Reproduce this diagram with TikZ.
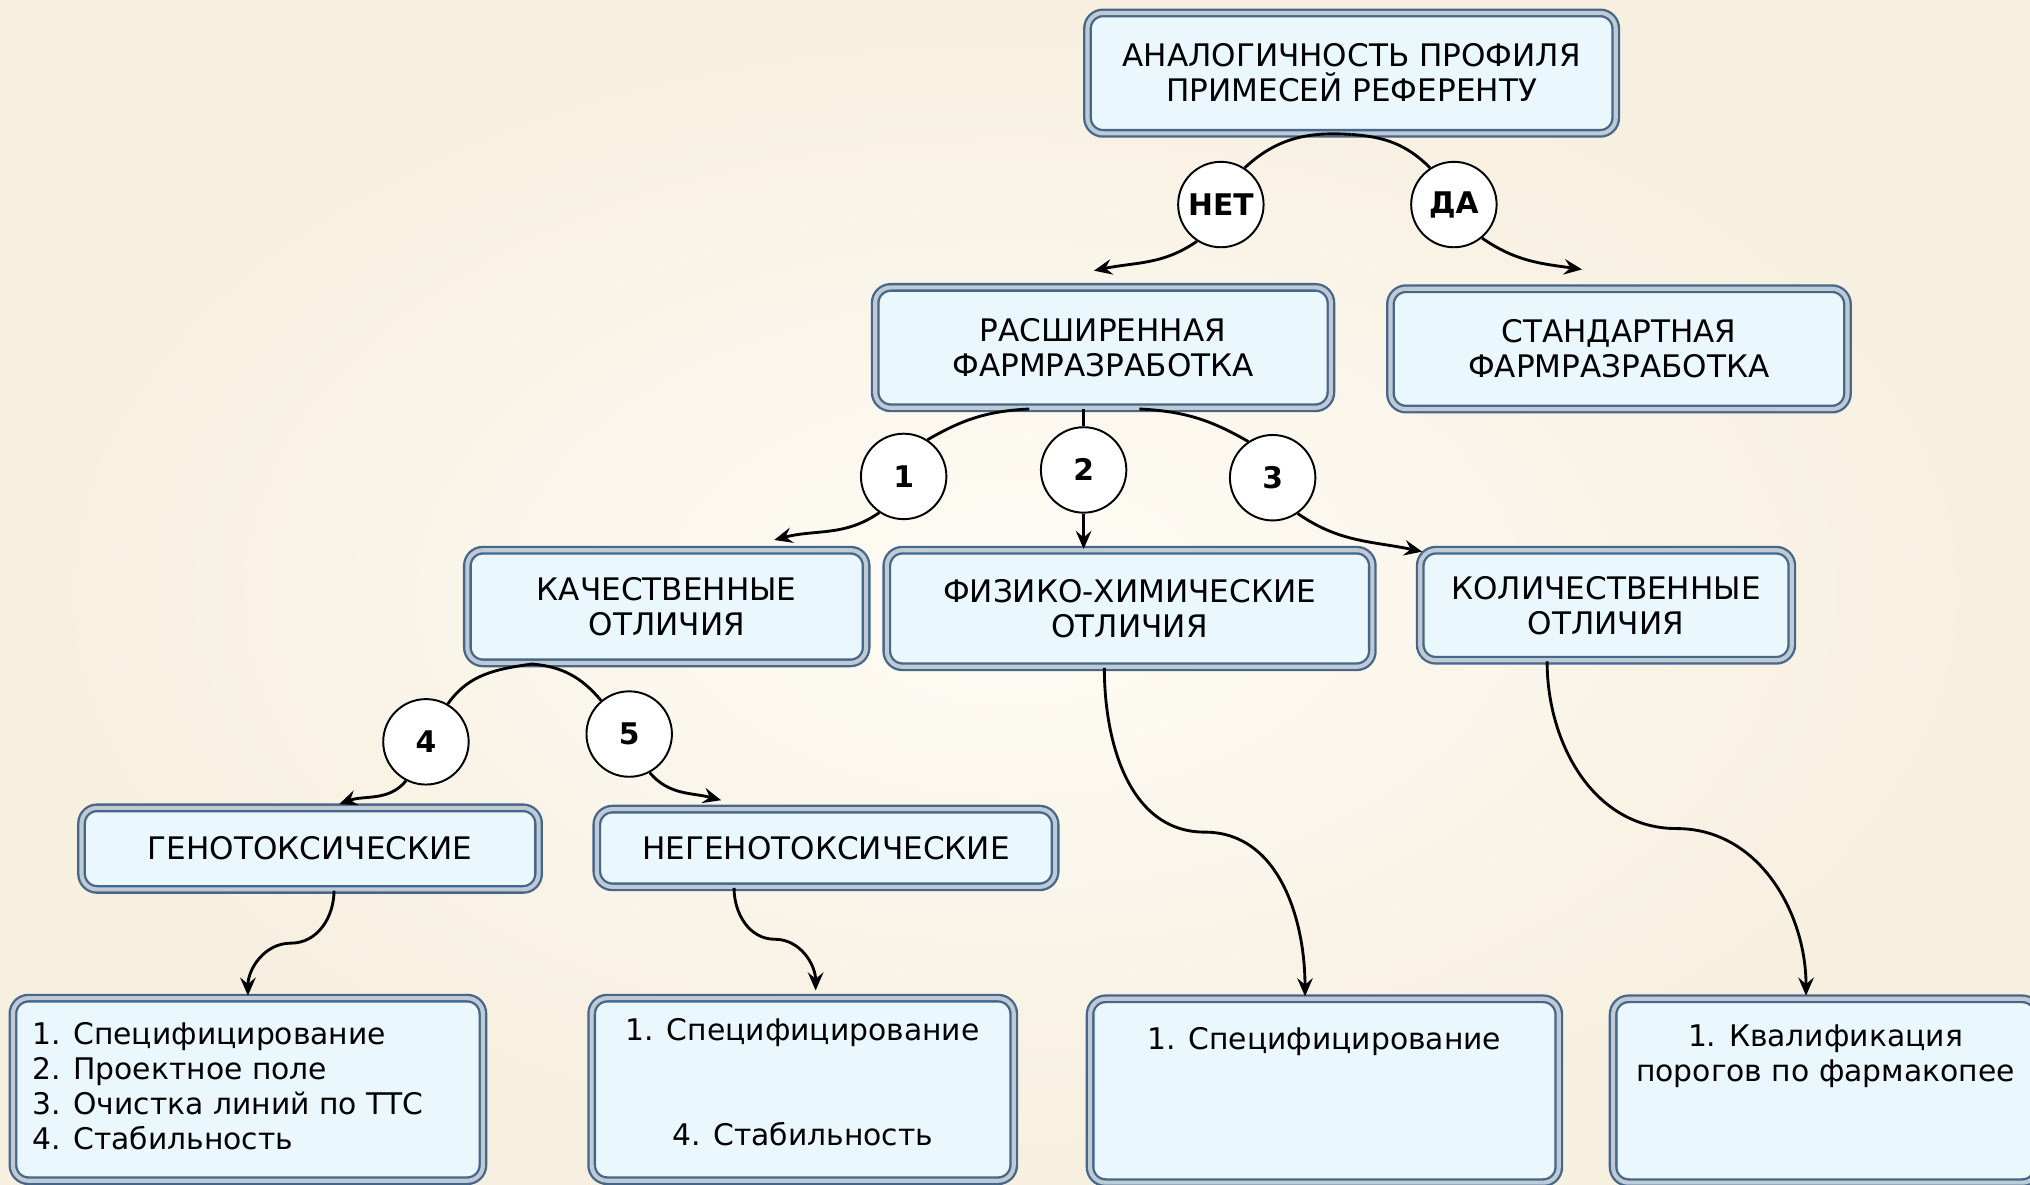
\documentclass[tikz,border=0pt]{standalone}
\usepackage{fontspec}
\setmainfont{DejaVu Sans}
\usetikzlibrary{arrows.meta,calc,shapes}

\definecolor{bgin}{HTML}{FEFCF6}
\definecolor{bgout}{HTML}{F7EFDF}
\definecolor{boxfill}{HTML}{EAF7FD}
\definecolor{boxedge}{HTML}{46668A}
\definecolor{boxrim}{HTML}{C0CAD4}

\tikzset{
  stage/.style={draw=boxedge, line width=0.9pt, double=boxrim, double distance=1.6pt,
    fill=boxfill, rounded corners=6pt, align=center, inner sep=0pt,
    font=\fontsize{12}{13.5}\selectfont},
  result/.style={stage, font=\fontsize{11.5}{13.5}\selectfont},
  answer/.style={circle, draw, line width=0.75pt, fill=white, minimum size=33pt,
    inner sep=0pt, font=\fontsize{11.5}{13}\selectfont\bfseries},
  link/.style={line width=1.1pt},
  flow/.style={link, -{Stealth[length=7pt,width=6pt,inset=2.5pt]}},
}

\begin{document}
\begin{tikzpicture}[x=0.5pt,y=0.5pt]
\useasboundingbox (0,0) rectangle (1568,915);
\shade[inner color=bgin, outer color=bgout] (0,0) rectangle (1568,915);

\node[stage, minimum width=204pt, minimum height=46.5pt] (anal) at (1044,858.5) {АНАЛОГИЧНОСТЬ ПРОФИЛЯ\\ПРИМЕСЕЙ РЕФЕРЕНТУ};
\node[stage, minimum width=176pt, minimum height=46.5pt] (ext) at (852,646.5) {РАСШИРЕННАЯ\\ФАРМРАЗРАБОТКА};
\node[stage, minimum width=176.5pt, minimum height=46.5pt] (std) at (1250.5,645.5) {СТАНДАРТНАЯ\\ФАРМРАЗРАБОТКА};
\node[stage, minimum width=154pt, minimum height=43.5pt] (qual) at (515,446.5) {КАЧЕСТВЕННЫЕ\\ОТЛИЧИЯ};
\node[stage, minimum width=187.5pt, minimum height=45pt] (phys) at (872.5,445) {ФИЗИКО-ХИМИЧЕСКИЕ\\ОТЛИЧИЯ};
\node[stage, minimum width=143.5pt, minimum height=42.5pt] (quant) at (1240.5,447.5) {КОЛИЧЕСТВЕННЫЕ\\ОТЛИЧИЯ};
\node[stage, minimum width=176.5pt, minimum height=31.5pt] (geno) at (239.5,259.5) {ГЕНОТОКСИЧЕСКИЕ};
\node[stage, minimum width=177pt, minimum height=30pt] (ngeno) at (638,260) {НЕГЕНОТОКСИЧЕСКИЕ};

\node[result, minimum width=181.5pt, minimum height=70.5pt, inner xsep=7.5pt, inner ysep=9.5pt] (spec1) at (191.5,73.5)
  {\parbox[c][51.5pt][t]{166.5pt}{\raggedright 1. Специфицирование\\2. Проектное поле\\3. Очистка линий по ТТС\\4. Стабильность}};
\node[result, minimum width=163pt, minimum height=70.5pt, inner xsep=7.5pt, inner ysep=8pt] (spec2) at (620,73.5)
  {\parbox[c][54.5pt][t]{148pt}{\centering 1. Специфицирование\\[27pt]4. Стабильность}};
\node[result, minimum width=181pt, minimum height=71pt, inner xsep=7.5pt, inner ysep=11pt] (spec3) at (1023,72.5)
  {\parbox[c][49pt][t]{166pt}{\centering 1. Специфицирование}};
\node[result, minimum width=164pt, minimum height=71pt, inner xsep=2pt, inner ysep=10pt] (spec4) at (1410,72.5)
  {\parbox[c][51pt][t]{160pt}{\centering 1. Квалификация\\порогов по фармакопее}};

\node[answer] (net) at (943,757) {НЕТ};
\node[answer] (da) at (1123,757) {ДА};
\node[answer] (c1) at (698,547) {1};
\node[answer] (c2) at (837,552) {2};
\node[answer] (c3) at (983,546) {3};
\node[answer] (c4) at (329,342) {4};
\node[answer] (c5) at (486,348) {5};

\draw[link] (anal.south) to[out=176,in=43] (net.57);
\draw[link] (anal.south) to[out=-4,in=135] (da.123);
\draw[flow] (net.-123) to[out=-145,in=12] ($(ext.north)+(-7,12)$);
\draw[flow] (da.-50) to[out=-35,in=172] ($(std.north)+(-28.5,14)$);

\draw[link] ($(ext.south)+(-57,0)$) to[out=183,in=30] (c1.57);
\draw[link] (c2 |- ext.south) -- (c2);
\draw[link] ($(ext.south)+(28,0)$) to[out=-3,in=150] (c3.124);
\draw[flow] (c1.-124) to[out=-145,in=15] ($(qual.north)+(83,7)$);
\draw[flow] (c2) -- (c2 |- phys.north);
\draw[flow] (c3.-55) to[out=-35,in=168] ($(quant.north)+(-142,-2)$);

\draw[link] ($(qual.south)+(-104,0)$) to[out=188,in=55] (c4.60);
\draw[link] ($(qual.south)+(-104,0)$) to[out=-5,in=130] (c5.130);
\draw[flow] (c4.-117) to[out=-130,in=20] ($(geno.north)+(22.5,2)$);
\draw[flow] (c5.-62) to[out=-50,in=165] ($(ngeno.north)+(-81,6)$);

\coordinate (geno-out) at ($(geno.south)+(18.5,0)$);
\coordinate (spec1-in) at ($(spec1.north)+(0,1)$);
\coordinate (ngeno-out) at ($(ngeno.south)+(-71,0)$);
\coordinate (spec2-in) at ($(spec2.north)+(10,5)$);
\coordinate (phys-out) at ($(phys.south)+(-19.5,0)$);
\coordinate (spec3-in) at ($(spec3.north)+(-15,1)$);
\coordinate (quant-out) at ($(quant.south)+(-45.5,0)$);
\coordinate (spec4-in) at ($(spec4.north)+(-15,1.5)$);

\draw[flow] (geno-out) to[out=-90,in=0] ($(geno-out)!.5!(spec1-in)$) to[out=180,in=90] (spec1-in);
\draw[flow] (ngeno-out) to[out=-90,in=180] ($(ngeno-out)!.5!(spec2-in)$) to[out=0,in=90] (spec2-in);
\draw[flow] (phys-out) to[out=-90,in=180] ($(phys-out)!.5!(spec3-in)$) to[out=0,in=90] (spec3-in);
\draw[flow] (quant-out) to[out=-90,in=180] ($(quant-out)!.5!(spec4-in)$) to[out=0,in=90] (spec4-in);
\end{tikzpicture}
\end{document}
